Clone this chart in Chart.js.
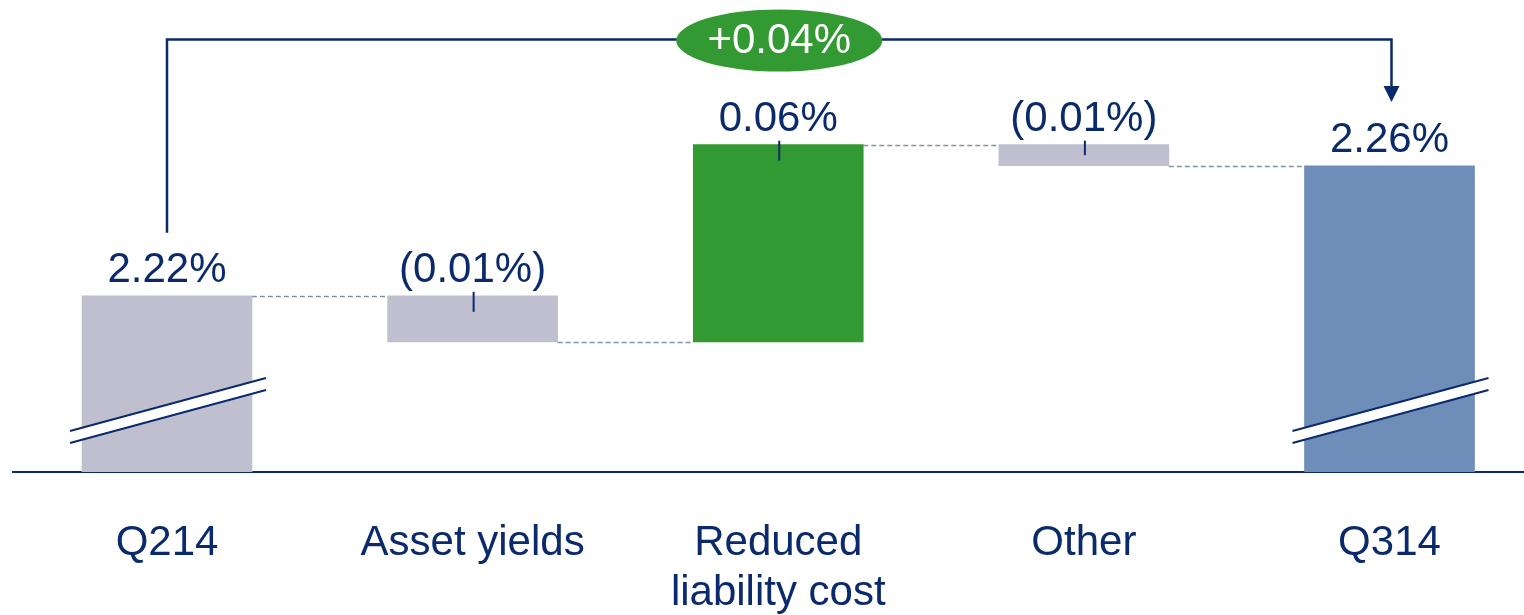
<!DOCTYPE html>
<html>
<head>
<meta charset="utf-8">
<script src="https://cdn.jsdelivr.net/npm/chart.js@4.4.1/dist/chart.umd.min.js"></script>
<style>
  body { margin: 0; background: #fff; }
  #wrap { width: 1524px; height: 615px; }
</style>
</head>
<body>
<div id="wrap"><canvas id="myChart"></canvas></div>
<script>
// data
const categories = ['Q214', 'Asset yields', ['Reduced', 'liability cost'], 'Other', 'Q314'];
const startValue = 2.22;
const changes = [-0.0142, 0.0607, -0.0065];   // asset yields, liability cost, other
const endValue = 2.26;
const valueLabels = ['2.22%', '(0.01%)', '0.06%', '(0.01%)', '2.26%'];
const totalChangeLabel = '+0.04%';

const navy = '#0a2a6c';
const font = "'Liberation Sans', Arial, sans-serif";

// build the waterfall: totals are plain bars, changes are floating bars
var barData = [{ x: 0, y: startValue }];
var levels = [startValue];
var running = startValue;
changes.forEach(function (d, i) {
    var next = running + d;
    barData.push({ x: i + 1, y: [Math.min(running, next), Math.max(running, next)] });
    running = next;
    levels.push(running);
});
barData.push({ x: categories.length - 1, y: endValue });

const waterfallExtras = {
    id: 'waterfallExtras',
    afterDatasetsDraw: function (chart) {
        const ctx = chart.ctx;
        const bars = chart.getDatasetMeta(0).data;
        const yScale = chart.scales.y;
        const bottom = chart.chartArea.bottom;
        ctx.save();

        // dashed connectors between bars
        ctx.strokeStyle = '#7f91b3';
        ctx.lineWidth = 1.5;
        ctx.setLineDash([5, 3]);
        for (var i = 0; i < bars.length - 1; i++) {
            var py = Math.round(yScale.getPixelForValue(levels[i])) + 0.5;
            ctx.beginPath();
            ctx.moveTo(bars[i].x + bars[i].width / 2, py);
            ctx.lineTo(bars[i + 1].x - bars[i + 1].width / 2, py);
            ctx.stroke();
        }
        ctx.setLineDash([]);

        // axis break marks on the two totals
        [0, bars.length - 1].forEach(function (i) {
            var b = bars[i];
            var x1 = b.x - b.width / 2 - 12, x2 = b.x + b.width / 2 + 14;
            var y1 = bottom - 41, y2 = bottom - 94, gap = 12;
            ctx.fillStyle = '#ffffff';
            ctx.beginPath();
            ctx.moveTo(x1, y1); ctx.lineTo(x2, y2);
            ctx.lineTo(x2, y2 + gap); ctx.lineTo(x1, y1 + gap);
            ctx.closePath();
            ctx.fill();
            ctx.strokeStyle = navy;
            ctx.lineWidth = 2;
            ctx.beginPath();
            ctx.moveTo(x1, y1); ctx.lineTo(x2, y2);
            ctx.moveTo(x1, y1 + gap); ctx.lineTo(x2, y2 + gap);
            ctx.stroke();
        });

        // value labels and leader ticks
        ctx.font = '42px ' + font;
        ctx.fillStyle = navy;
        ctx.textAlign = 'center';
        ctx.textBaseline = 'alphabetic';
        bars.forEach(function (b, i) {
            var top = Math.min(b.y, b.base);
            var h = Math.abs(b.base - b.y);
            ctx.fillText(valueLabels[i], b.x, top - 14);
            if (i > 0 && i < bars.length - 1) {
                ctx.strokeStyle = navy;
                ctx.lineWidth = 2;
                ctx.beginPath();
                ctx.moveTo(b.x + 1, top - 4);
                ctx.lineTo(b.x + 1, top + Math.min(16, h / 2));
                ctx.stroke();
            }
        });

        // bracket from first total to last total with arrow
        var first = bars[0], last = bars[bars.length - 1];
        var yTop = 39.5;
        ctx.strokeStyle = navy;
        ctx.lineWidth = 2.5;
        ctx.beginPath();
        ctx.moveTo(first.x, Math.min(first.y, first.base) - 63);
        ctx.lineTo(first.x, yTop);
        ctx.lineTo(last.x + 2, yTop);
        ctx.lineTo(last.x + 2, 88);
        ctx.stroke();
        ctx.fillStyle = navy;
        ctx.beginPath();
        ctx.moveTo(last.x - 6, 86);
        ctx.lineTo(last.x + 10, 86);
        ctx.lineTo(last.x + 2, 102);
        ctx.closePath();
        ctx.fill();

        // green ellipse with total change
        var cx = (first.x + last.x) / 2;
        ctx.fillStyle = '#339933';
        ctx.beginPath();
        ctx.ellipse(cx + 1, 40.5, 103, 31, 0, 0, Math.PI * 2);
        ctx.fill();
        ctx.fillStyle = '#ffffff';
        ctx.fillText(totalChangeLabel, cx + 1, 53);

        ctx.restore();
    }
};

const ctx = document.getElementById('myChart');
var waterfall = new Chart(ctx, {
    type: 'bar',
    data: {
        datasets: [{
            data: barData,
            backgroundColor: ['#bfbfcf', '#bfbfcf', '#339933', '#bfbfcf', '#6e8db8'],
            borderWidth: 0,
            barThickness: 170
        }]
    },
    options: {
        responsive: true,
        maintainAspectRatio: false,
        animation: false,
        layout: { padding: { left: 13, right: 0, top: 0, bottom: 0 } },
        plugins: {
            legend: { display: false },
            tooltip: { enabled: false }
        },
        scales: {
            x: {
                type: 'linear',
                offset: false,
                min: -0.5039,
                max: 4.4401,
                afterBuildTicks: function (scale) {
                    scale.ticks = categories.map(function (c, i) { return { value: i }; });
                },
                afterFit: function (scale) { scale.height = 143; },
                grid: { display: false, drawTicks: false },
                border: { display: true, color: navy, width: 2 },
                ticks: {
                    autoSkip: false,
                    maxRotation: 0,
                    padding: 47,
                    color: navy,
                    font: { family: font, size: 42, lineHeight: 1.18 },
                    callback: function (value) { return categories[value]; }
                }
            },
            y: {
                display: false,
                min: 2.1658,
                max: 2.3110
            }
        }
    },
    plugins: [waterfallExtras]
});
</script>
</body>
</html>
